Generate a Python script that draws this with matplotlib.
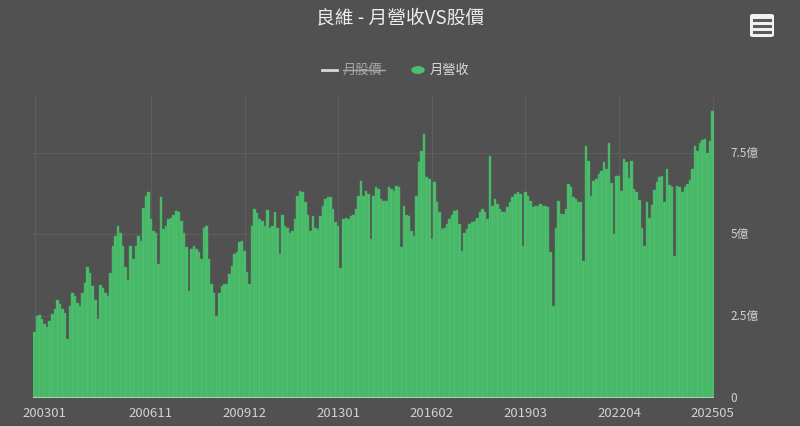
import matplotlib
matplotlib.use("Agg")
import matplotlib.pyplot as plt
import matplotlib.transforms as mtransforms
from matplotlib.lines import Line2D
from matplotlib.patches import FancyBboxPatch, Circle

plt.rcParams['font.family'] = ['Noto Sans CJK TC', 'DejaVu Sans']

# 月營收 (億), 200301 ~ 202505
rev_2003 = [2.0, 2.5, 2.52, 2.4, 2.25, 2.15, 2.35, 2.55, 2.7, 3.0, 2.85, 2.7]
rev_2004 = [2.6, 1.8, 2.8, 3.2, 3.1, 2.9, 2.8, 3.2, 3.5, 4.0, 3.8, 3.4]
rev_2005 = [3.0, 2.4, 3.45, 3.35, 3.2, 3.1, 3.8, 4.65, 4.95, 5.25, 5.05, 4.65]
rev_2006 = [4.0, 3.6, 4.65, 4.25, 4.65, 4.95, 4.8, 5.8, 6.18, 6.28, 5.46, 5.1]
rev_2007 = [5.05, 4.08, 6.13, 5.16, 5.26, 5.46, 5.5, 5.6, 5.72, 5.67, 5.41, 5.05]
rev_2008 = [4.6, 3.27, 4.55, 4.65, 4.55, 4.44, 4.24, 5.2, 5.26, 4.24, 3.47, 3.2]
rev_2009 = [2.5, 3.2, 3.42, 3.47, 3.47, 3.78, 4.03, 4.39, 4.44, 4.75, 4.8, 4.5]
rev_2010 = [3.83, 3.47, 5.26, 5.77, 5.65, 5.45, 5.4, 5.25, 5.75, 5.2, 5.26, 5.67]
rev_2011 = [5.2, 4.39, 5.6, 5.26, 5.2, 5.05, 5.1, 5.46, 6.18, 6.33, 6.28, 6.0]
rev_2012 = [5.6, 5.1, 5.57, 5.2, 5.16, 5.57, 5.87, 6.08, 6.13, 6.13, 5.77, 5.36]
rev_2013 = [5.25, 3.98, 5.46, 5.5, 5.46, 5.57, 5.6, 5.77, 6.18, 6.64, 6.18, 6.33]
rev_2014 = [6.23, 4.85, 6.18, 6.43, 6.38, 6.08, 6.03, 6.03, 6.43, 6.38, 6.33, 6.49]
rev_2015 = [6.43, 4.6, 5.87, 5.6, 5.57, 5.1, 4.95, 6.18, 7.2, 7.56, 8.07, 6.74]
rev_2016 = [6.69, 4.85, 6.59, 5.98, 5.67, 5.16, 5.2, 5.3, 5.46, 5.6, 5.72, 5.75]
rev_2017 = [5.3, 4.49, 5.05, 5.16, 5.3, 5.36, 5.41, 5.5, 5.67, 5.77, 5.67, 5.46]
rev_2018 = [7.4, 5.87, 6.08, 5.92, 5.77, 5.67, 5.67, 5.82, 5.98, 6.13, 6.23, 6.28]
rev_2019 = [6.23, 4.65, 6.28, 6.18, 6.03, 5.82, 5.87, 5.87, 5.92, 5.87, 5.87, 5.82]
rev_2020 = [4.44, 2.81, 5.2, 6.03, 5.62, 5.62, 5.77, 6.54, 6.43, 6.13, 6.08, 5.98]
rev_2021 = [5.98, 4.19, 7.71, 7.25, 6.18, 6.64, 6.69, 6.84, 6.94, 7.2, 7.0, 7.8]
rev_2022 = [6.58, 5.0, 6.78, 6.78, 6.33, 7.3, 7.2, 6.73, 7.25, 6.38, 6.28, 6.05]
rev_2023 = [5.2, 4.65, 6.0, 5.5, 5.9, 6.35, 6.6, 6.75, 6.78, 6.0, 7.0, 6.5]
rev_2024 = [6.45, 4.34, 6.48, 6.43, 6.3, 6.45, 6.55, 6.65, 7.0, 7.69, 7.55, 7.8]
rev_2025 = [7.88, 7.9, 7.5, 7.85, 8.78]

revenue = (rev_2003 + rev_2004 + rev_2005 + rev_2006 + rev_2007 + rev_2008
           + rev_2009 + rev_2010 + rev_2011 + rev_2012 + rev_2013 + rev_2014
           + rev_2015 + rev_2016 + rev_2017 + rev_2018 + rev_2019 + rev_2020
           + rev_2021 + rev_2022 + rev_2023 + rev_2024 + rev_2025)
months = [f"{y}{m:02d}" for y in range(2003, 2026) for m in range(1, 13)][:len(revenue)]

x_tick_labels = ['200301', '200611', '200912', '201301', '201602', '201903', '202204', '202505']
y_ticks = [0, 2.5, 5, 7.5]
y_tick_labels = ['0', '2.5億', '5億', '7.5億']

bg = '#515151'
green = '#4cc06e'
grid_c = '#5e5e5e'
text_c = '#d2d2d2'

W, H = 800, 426
fig = plt.figure(figsize=(W / 100, H / 100), dpi=100, facecolor=bg)
ax = fig.add_axes([33.3 / W, 28.5 / H, 680.6 / W, 300.5 / H])
ax.set_facecolor(bg)

xs = list(range(len(revenue)))
ax.bar(xs, revenue, width=1.0, color=green, edgecolor='#44aa61', linewidth=0.35, zorder=3)
ax.set_xlim(-0.5, len(revenue) - 0.5)
ax.set_ylim(0, 9.2)

ax.set_xticks([months.index(m) for m in x_tick_labels])
ax.set_xticklabels(x_tick_labels)
ax.set_yticks(y_ticks)
ax.set_yticklabels(y_tick_labels)
ax.yaxis.tick_right()
ax.tick_params(axis='x', length=0, pad=7, labelsize=9.5, colors=text_c)
ax.tick_params(axis='y', length=0, pad=12, labelsize=8.5, colors=text_c)
for lab in ax.get_yticklabels():
    lab.set_horizontalalignment('left')

# first label is pushed right like the original
first = ax.get_xticklabels()[0]
first.set_transform(first.get_transform() + mtransforms.ScaledTranslation(10 / 100, 0, fig.dpi_scale_trans))

ax.grid(True, color=grid_c, linewidth=0.8, zorder=0)
for s in ax.spines.values():
    s.set_visible(False)
ax.axhline(0, color='#c4d0c6', linewidth=1.3, zorder=4)

# title
fig.text(0.5, 1 - 18 / H, '良維 - 月營收VS股價', ha='center', va='center',
         fontsize=13.5, color='#ececec', fontweight='medium')

# legend (drawn by hand, hidden series has strikethrough)
ly = 1 - 70 / H
fig.add_artist(Line2D([322 / W, 337 / W], [ly, ly], color='#d8d8d8', linewidth=2))
fig.text(343 / W, ly, '月股價', ha='left', va='center', fontsize=9.5, color='#a8a8a8')
fig.add_artist(Line2D([343 / W, 385 / W], [ly, ly], color='#a8a8a8', linewidth=1))
fig.add_artist(Circle((418 / W, ly), 6 / W, transform=fig.transFigure, color=green))
fig.text(430 / W, ly, '月營收', ha='left', va='center', fontsize=9.5, color='#dcdcdc')

# menu button
fig.add_artist(FancyBboxPatch((750 / W, 1 - 37 / H), 24 / W, 23 / H,
                              boxstyle='round,pad=0,rounding_size=0.004',
                              transform=fig.transFigure, facecolor='#f2f2f2', edgecolor='none'))
for yy in (19.5, 25.5, 31.5):
    fig.add_artist(Line2D([754 / W, 770 / W], [1 - yy / H, 1 - yy / H], color='#5a5a5a', linewidth=2.2))

fig.savefig('out.png', dpi=100, facecolor=bg)
